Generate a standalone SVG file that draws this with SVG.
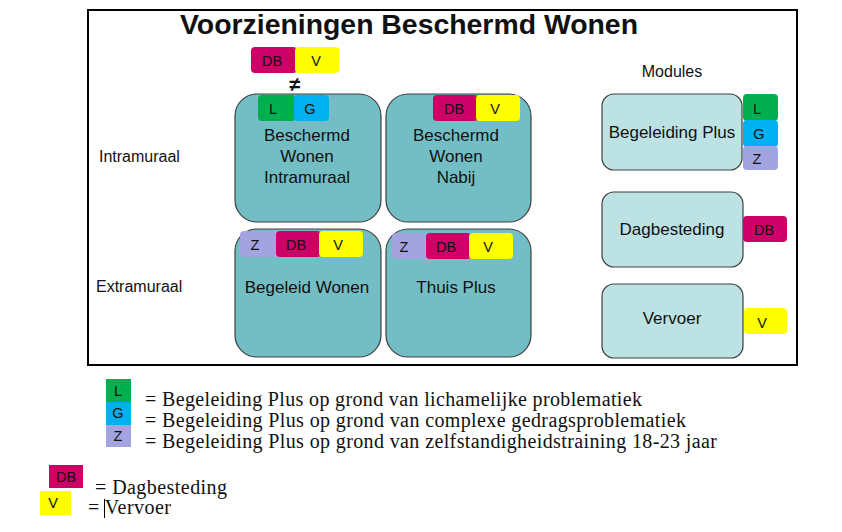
<svg xmlns="http://www.w3.org/2000/svg" width="842" height="532" viewBox="0 0 842 532">
<style>
text{font-family:"Liberation Sans",Arial,sans-serif;fill:#111}
.n{fill:#72BEC4;stroke:#404040;stroke-width:1.2}
.m{fill:#BDE2E4;stroke:#404040;stroke-width:1.2}
.nt{font-size:17px;text-anchor:middle}
.bt{font-size:14.5px;text-anchor:middle}
.lg{font-family:"Liberation Serif","Times New Roman",serif;font-size:20px}
.db{fill:#CC0066}.v{fill:#FFFF00}.l{fill:#00B050}.g{fill:#00B0F0}.z{fill:#A3A3E0}
</style>
<rect width="842" height="532" fill="#fff"/>
<rect x="88" y="10" width="709" height="355" fill="none" stroke="#000" stroke-width="2"/>
<text x="180" y="34" font-size="27" font-weight="bold" textLength="458" lengthAdjust="spacingAndGlyphs" font-family="DejaVu Sans,sans-serif">Voorzieningen Beschermd Wonen</text>
<text x="99" y="162" font-size="16">Intramuraal</text>
<text x="96" y="292" font-size="16">Extramuraal</text>
<text x="672" y="77" font-size="16" text-anchor="middle">Modules</text>

<g id="top-badges">
<rect class="db" x="251" y="47" width="46" height="26" rx="4"/><text class="bt" x="272" y="66">DB</text>
<rect class="v" x="295" y="47" width="44" height="26" rx="4"/><text class="bt" x="316" y="66">V</text>
<text x="295" y="91" font-size="20" font-weight="bold" text-anchor="middle">≠</text>
</g>

<g id="bwi">
<rect class="n" x="235" y="94" width="146" height="128" rx="22"/>
<rect class="l" x="258" y="95" width="38" height="26" rx="4"/><text class="bt" x="273" y="114">L</text>
<rect class="g" x="294" y="95" width="35" height="26" rx="4"/><text class="bt" x="310" y="114">G</text>
<text class="nt" x="307" y="141">Beschermd</text><text class="nt" x="307" y="162">Wonen</text><text class="nt" x="307" y="183">Intramuraal</text>
</g>
<g id="bwn">
<rect class="n" x="386" y="94" width="145" height="128" rx="22"/>
<rect class="db" x="433" y="95" width="45" height="26" rx="4"/><text class="bt" x="454" y="114">DB</text>
<rect class="v" x="476" y="95" width="44" height="26" rx="4"/><text class="bt" x="495" y="114">V</text>
<text class="nt" x="456" y="141">Beschermd</text><text class="nt" x="456" y="162">Wonen</text><text class="nt" x="456" y="183">Nabij</text>
</g>
<g id="begeleid">
<rect class="n" x="235" y="229" width="146" height="128" rx="22"/>
<rect class="z" x="240" y="231" width="46" height="26" rx="4"/><text class="bt" x="255" y="250">Z</text>
<rect class="db" x="276" y="231" width="45" height="26" rx="4"/><text class="bt" x="296" y="250">DB</text>
<rect class="v" x="319" y="231" width="44" height="26" rx="4"/><text class="bt" x="338" y="250">V</text>
<text class="nt" x="307" y="293">Begeleid Wonen</text>
</g>
<g id="thuisplus">
<rect class="n" x="386" y="229" width="145" height="128" rx="22"/>
<rect class="z" x="392" y="233" width="45" height="26" rx="4"/><text class="bt" x="404" y="252">Z</text>
<rect class="db" x="426" y="233" width="45" height="26" rx="4"/><text class="bt" x="446" y="252">DB</text>
<rect class="v" x="469" y="233" width="44" height="26" rx="4"/><text class="bt" x="488" y="252">V</text>
<text class="nt" x="456" y="293">Thuis Plus</text>
</g>

<g id="bplus">
<rect class="m" x="602" y="94" width="140" height="76" rx="12"/>
<text class="nt" x="672" y="138">Begeleiding Plus</text>
<rect class="l" x="743" y="94" width="35" height="27" rx="4"/><text class="bt" x="757" y="114">L</text>
<rect class="g" x="743" y="120" width="35" height="27" rx="4"/><text class="bt" x="759" y="139">G</text>
<rect class="z" x="743" y="146" width="35" height="24" rx="4"/><text class="bt" x="757" y="164">Z</text>
</g>
<g id="dagbesteding">
<rect class="m" x="602" y="192" width="141" height="75" rx="12"/>
<text class="nt" x="672" y="235">Dagbesteding</text>
<rect class="db" x="743" y="216" width="44" height="26" rx="4"/><text class="bt" x="764" y="235">DB</text>
</g>
<g id="vervoer">
<rect class="m" x="602" y="284" width="141" height="74" rx="12"/>
<text class="nt" x="672" y="324">Vervoer</text>
<rect class="v" x="744" y="308" width="43" height="26" rx="4"/><text class="bt" x="762" y="328">V</text>
</g>

<g id="legend">
<rect class="l" x="106" y="379" width="25" height="23"/><text class="bt" x="118" y="396" font-size="13">L</text>
<rect class="g" x="106" y="402" width="25" height="23"/><text class="bt" x="118" y="418" font-size="13">G</text>
<rect class="z" x="106" y="425" width="25" height="22"/><text class="bt" x="118" y="441" font-size="13">Z</text>
<text class="lg" x="145" y="406" textLength="497">= Begeleiding Plus op grond van lichamelijke problematiek</text>
<text class="lg" x="145" y="427" textLength="541">= Begeleiding Plus op grond van complexe gedragsproblematiek</text>
<text class="lg" x="145" y="448" textLength="572">= Begeleiding Plus op grond van zelfstandigheidstraining 18-23 jaar</text>
<rect class="db" x="49" y="465" width="34" height="23"/><text class="bt" x="66" y="482" font-size="13">DB</text>
<text class="lg" x="95" y="494" textLength="132">= Dagbesteding</text>
<rect class="v" x="40" y="491" width="31" height="24"/><text class="bt" x="53" y="508" font-size="13">V</text>
<text class="lg" x="88" y="514" textLength="83">= Vervoer</text>
<line x1="104.5" y1="499" x2="104.5" y2="518" stroke="#000" stroke-width="1"/>
</g>
</svg>
